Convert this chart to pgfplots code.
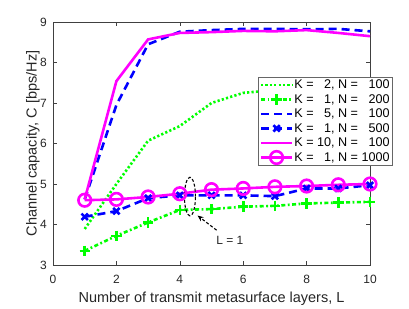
\documentclass[border=0pt]{standalone}
\usepackage{pgfplots}
\pgfplotsset{compat=1.18}
\usepackage{fontspec}
\setmainfont{Liberation Sans}
\usetikzlibrary{arrows.meta}
\definecolor{mgreen}{rgb}{0,1,0}
\definecolor{mblue}{rgb}{0,0,1}
\definecolor{mmag}{rgb}{1,0,1}
\begin{document}
\begin{tikzpicture}
\begin{axis}[
  name=ax,
  at={(0,0)}, anchor=south west,
  width=317bp, height=243bp, scale only axis,
  xmin=0, xmax=10, ymin=3, ymax=9,
  xtick={0,2,4,6,8,10}, ytick={3,4,5,6,7,8,9},
  tick align=inside, major tick length=4bp,
  every tick/.style={black!75, line width=0.6bp},
  axis line style={black!75, line width=0.6bp},
  /pgf/number format/assume math mode=true,
  tick label style={font=\fontsize{12bp}{14bp}\selectfont, text=black!85},
  xticklabel style={anchor=base, yshift=-18.3bp},
  yticklabel style={anchor=east, inner xsep=0pt, xshift=-6bp},
  label style={font=\fontsize{14.5bp}{17bp}\selectfont, text=black!85},
  xlabel={Number of transmit metasurface layers, L},
  ylabel={Channel capacity, C [bps/Hz]},
  xlabel style={at={(axis description cs:0.5,-0.155)}, anchor=base},
  ylabel style={at={(axis description cs:-0.052,0.5)}, anchor=base},
  legend image code/.code={\draw[mark repeat=2,mark phase=2,#1] plot coordinates {(0bp,0bp) (15.5bp,0bp) (31bp,0bp)};},
  legend cell align=left,
  legend style={at={(rel axis cs:0.6467,0.7737)}, anchor=north west,
    font=\fontsize{12.6bp}{15bp}\selectfont, draw=black!60, line width=0.5bp,
    fill=white, inner xsep=1.5bp, inner ysep=1.5bp, row sep=2.2bp,
    nodes={inner xsep=1bp, inner ysep=1bp}},
]
\addplot[mgreen, line width=2.6bp, dash pattern=on 2.2bp off 2.2bp] coordinates {
 (1,3.89) (2,5.0) (3,6.07) (4,6.43) (5,7.0) (6,7.25) (7,7.32) (8,7.38) (9,7.42) (10,7.45)};
\addlegendentry{K = \phantom{0}2, N = \phantom{0}100}
\addplot[mgreen, line width=2.6bp, dash pattern=on 4bp off 2.5bp on 1.8bp off 2.5bp, mark=+, mark size=5.2bp, mark options={solid}] coordinates {
 (1,3.35) (2,3.72) (3,4.05) (4,4.36) (5,4.38) (6,4.44) (7,4.46) (8,4.52) (9,4.54) (10,4.56)};
\addlegendentry{K = \phantom{0}1, N = \phantom{0}200}
\addplot[mblue, line width=2.6bp, dash pattern=on 8bp off 5bp] coordinates {
 (1,4.62) (2,6.95) (3,8.45) (4,8.76) (5,8.8) (6,8.83) (7,8.83) (8,8.82) (9,8.83) (10,8.77)};
\addlegendentry{K = \phantom{0}5, N = \phantom{0}100}
\addplot[mblue, line width=2.6bp, dash pattern=on 8bp off 5bp, mark=x, mark size=4.5bp, mark options={solid}] coordinates {
 (1,4.19) (2,4.33) (3,4.65) (4,4.72) (5,4.72) (6,4.72) (7,4.7) (8,4.89) (9,4.89) (10,4.97)};
\addlegendentry{K = \phantom{0}1, N = \phantom{0}500}
\addplot[mmag, line width=2.6bp] coordinates {
 (1,4.62) (2,7.54) (3,8.57) (4,8.73) (5,8.75) (6,8.78) (7,8.77) (8,8.8) (9,8.73) (10,8.65)};
\addlegendentry{K = 10, N = \phantom{0}100}
\addplot[mmag, line width=2.6bp, mark=o, mark size=6.3bp, mark options={solid}] coordinates {
 (1,4.6) (2,4.62) (3,4.68) (4,4.76) (5,4.86) (6,4.89) (7,4.93) (8,4.95) (9,4.98) (10,5.0)};
\addlegendentry{K = \phantom{0}1, N = 1000}
\draw[black, line width=1.1bp, dash pattern=on 3bp off 2bp] (axis cs:4.32,4.69) ellipse [x radius=5.5bp, y radius=19.3bp];
\draw[black, line width=1.1bp, dash pattern=on 3bp off 2bp, -{Stealth[length=6bp,width=5bp]}] (axis cs:5.16,3.86) -- (axis cs:4.56,4.22);
\node[font=\fontsize{12bp}{14bp}\selectfont, text=black!85] at (axis cs:5.58,3.62) {L = 1};
\end{axis}
\path (ax.south west) ++(-53bp,-42bp) rectangle ++(409bp,307bp);
\end{tikzpicture}
\end{document}
